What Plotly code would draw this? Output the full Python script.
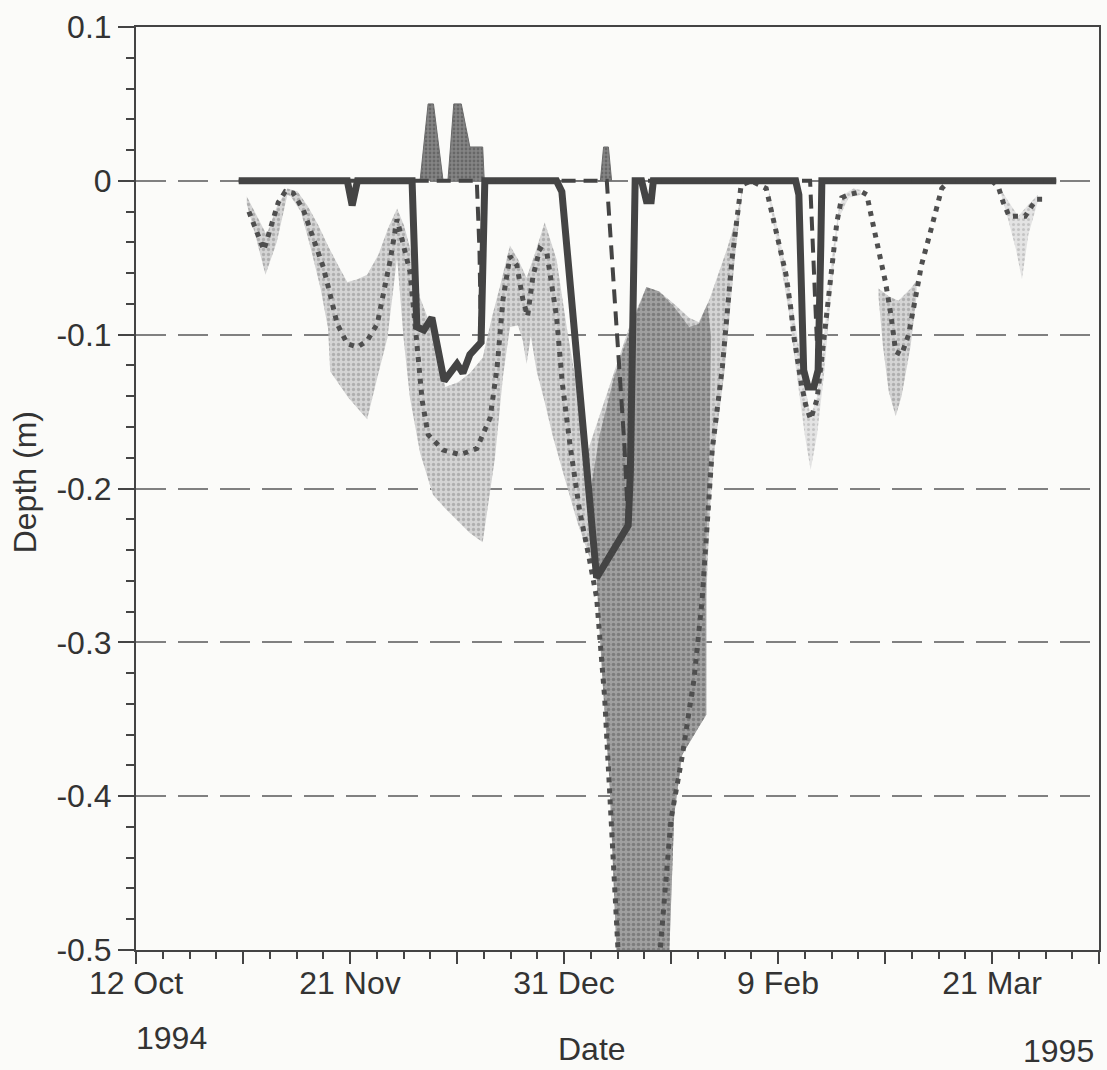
import pandas as pd
import plotly.graph_objects as go

START = pd.Timestamp("1994-10-12")

# ---------------- data (day offsets from 12 Oct 1994, depth in m) ----------------
# thick solid series
obs_day = [19.2, 39.5, 40.4, 41.4, 51.6, 52.5, 53.8, 55.3, 57.6, 60.0, 61.1, 62.4, 64.5, 65.2,
           78.6, 79.6, 86.1, 92.0, 92.4, 93.3, 94.5, 95.4, 96.3, 96.7,
           123.3, 123.9, 124.8, 125.6, 126.7, 127.5, 128.0, 128.2, 172.0]
obs_depth = [0, 0, -0.016, 0, 0, -0.095, -0.097, -0.089, -0.130, -0.119, -0.125, -0.113, -0.105, 0,
             0, -0.007, -0.258, -0.224, -0.190, 0, 0, -0.013, -0.013, 0,
             0, -0.009, -0.123, -0.134, -0.134, -0.123, -0.042, 0, 0]

# dashed series
dash_day = [19.2, 63.7, 64.2, 64.5, 65.2, 88.0, 91.3, 92.0, 92.4, 93.3, 126.0, 126.7, 127.5, 128.2, 172.0]
dash_depth = [0, 0, -0.045, -0.105, 0, 0, -0.172, -0.224, -0.190, 0, 0, -0.060, -0.123, 0, 0]

# dotted series
dot_day = [21.1, 22.5, 23.9, 25.2, 26.6, 27.9, 29.4, 31.3, 33.2, 35.0, 36.3, 37.6, 39.5, 41.4, 43.2,
           45.1, 46.2, 47.5, 48.8, 51.2, 52.4, 53.5, 54.6, 57.4, 60.6, 63.7, 66.2, 67.5, 68.6, 69.9,
           71.2, 72.3, 73.2, 74.2, 75.5, 76.8, 78.6, 79.7, 81.1, 82.9, 84.8, 86.1, 87.6, 88.9, 90.4,
           97.5, 100.0, 102.1, 104.3, 105.8, 106.6, 107.7, 109.6, 111.4, 113.1, 115.0, 117.8, 118.9,
           120.2, 121.5, 122.4, 123.0, 124.3, 125.2, 126.1, 127.3, 128.2, 129.1, 130.1, 131.0, 131.9,
           133.2, 135.6, 136.6, 137.5, 138.8, 140.1, 141.1, 142.0, 143.1, 144.4, 145.7, 146.8, 148.5,
           150.0, 150.6, 152.0, 160.0, 161.2, 162.1, 163.2, 164.5, 166.2, 167.5, 168.4, 169.9]
dot_depth = [-0.020, -0.033, -0.045, -0.030, -0.014, -0.007, -0.008, -0.019, -0.038, -0.056, -0.074,
             -0.093, -0.106, -0.108, -0.104, -0.093, -0.074, -0.052, -0.025, -0.059, -0.102, -0.143,
             -0.165, -0.175, -0.178, -0.174, -0.154, -0.121, -0.077, -0.049, -0.055, -0.077, -0.088,
             -0.062, -0.044, -0.047, -0.088, -0.132, -0.171, -0.214, -0.247, -0.271, -0.336, -0.414,
             -0.520, -0.520, -0.415, -0.374, -0.324, -0.273, -0.230, -0.175, -0.121, -0.051, -0.003,
             0.0, -0.005, -0.022, -0.040, -0.061, -0.083, -0.102, -0.131, -0.146, -0.155, -0.142,
             -0.115, -0.087, -0.055, -0.027, -0.011, -0.009, -0.007, -0.009, -0.024, -0.044, -0.066,
             -0.087, -0.111, -0.113, -0.100, -0.076, -0.055, -0.033, -0.011, -0.005, 0.0, 0.0,
             -0.004, -0.014, -0.023, -0.023, -0.023, -0.016, -0.012, -0.012]

# light shaded range (main Oct-Jan band): upper and lower edges
band_top_day = [20.7, 22.9, 24.4, 26.3, 28.3, 30.2, 32.2, 34.1, 36.0, 37.8, 39.5, 41.4, 43.2, 45.3,
                47.1, 48.8, 50.1, 51.4, 53.1, 55.5, 57.8, 60.2, 62.4, 64.8, 66.5, 68.0, 69.9, 71.4,
                73.0, 74.5, 76.4, 78.6, 80.5, 82.4, 84.4, 86.6, 89.4, 92.2, 95.4, 97.8, 100.6, 103.4,
                105.2, 107.2, 109.0, 110.5, 112.2, 113.3]
band_top = [-0.010, -0.025, -0.035, -0.017, -0.005, -0.007, -0.017, -0.029, -0.043, -0.055, -0.066,
            -0.064, -0.061, -0.048, -0.031, -0.018, -0.029, -0.046, -0.076, -0.098, -0.134, -0.131,
            -0.125, -0.115, -0.089, -0.069, -0.042, -0.051, -0.063, -0.048, -0.027, -0.051, -0.095,
            -0.134, -0.176, -0.153, -0.124, -0.095, -0.069, -0.072, -0.080, -0.089, -0.092, -0.077,
            -0.059, -0.044, -0.024, -0.006]
band_bot_day = [20.7, 22.5, 24.2, 26.3, 28.3, 28.9, 30.8, 32.6, 34.5, 35.9, 36.3, 39.7, 43.2, 45.1,
                47.0, 48.8, 50.0, 51.2, 53.1, 55.5, 57.8, 60.0, 62.4, 64.8, 67.1, 68.6, 69.9, 71.4,
                72.3, 73.0, 73.8, 74.9, 76.4, 77.9, 80.1, 82.5, 84.8, 86.1, 87.2, 88.5, 89.8, 99.7,
                100.6, 102.1, 105.2, 106.6, 106.6, 107.2, 108.1, 110.0, 111.8, 113.3]
band_bot = [-0.015, -0.038, -0.061, -0.040, -0.009, -0.010, -0.020, -0.043, -0.070, -0.096, -0.124,
            -0.141, -0.155, -0.128, -0.102, -0.050, -0.102, -0.141, -0.177, -0.204, -0.213, -0.221,
            -0.229, -0.235, -0.180, -0.127, -0.095, -0.094, -0.104, -0.119, -0.101, -0.124, -0.144,
            -0.166, -0.193, -0.222, -0.245, -0.259, -0.325, -0.390, -0.500, -0.500, -0.412, -0.373,
            -0.355, -0.347, -0.271, -0.219, -0.176, -0.124, -0.055, -0.008]

# darker shaded region (late Dec - Jan), outline
dark_day = [84.8, 86.6, 89.4, 92.2, 95.4, 97.8, 100.6, 103.4, 105.2, 106.8, 107.5, 107.2, 106.6,
            106.6, 105.2, 102.1, 100.6, 99.7, 89.8, 88.5, 87.2, 86.1, 84.8]
dark_depth = [-0.205, -0.166, -0.127, -0.098, -0.069, -0.072, -0.082, -0.095, -0.093, -0.080, -0.101,
              -0.173, -0.238, -0.347, -0.355, -0.373, -0.412, -0.500, -0.500, -0.390, -0.325, -0.259,
              -0.231]

# smaller light ranges (Feb, Feb/Mar, Mar)
feb1_top_day = [118.3, 120.2, 122.1, 123.9, 125.4, 126.1, 127.3, 128.6, 129.9, 131.3, 132.2, 134.1, 135.5]
feb1_top = [-0.006, -0.035, -0.068, -0.108, -0.140, -0.153, -0.140, -0.101, -0.055, -0.019, -0.009, -0.005, -0.006]
feb1_bot_day = [118.3, 120.2, 122.1, 123.5, 125.0, 126.1, 127.3, 128.6, 129.9, 131.3, 133.2, 135.5]
feb1_bot = [-0.012, -0.048, -0.087, -0.126, -0.165, -0.188, -0.165, -0.126, -0.074, -0.025, -0.011, -0.009]

feb2_top_day = [138.8, 140.7, 142.5, 144.8, 145.9]
feb2_top = [-0.070, -0.075, -0.078, -0.070, -0.065]
feb2_bot_day = [138.8, 139.6, 140.7, 142.0, 143.1, 144.8, 145.9]
feb2_bot = [-0.076, -0.107, -0.137, -0.153, -0.140, -0.107, -0.075]

mar_top_day = [161.7, 163.4, 164.9, 166.4, 168.6]
mar_top = [-0.006, -0.015, -0.023, -0.017, -0.009]
mar_bot_day = [161.7, 163.0, 164.5, 165.6, 166.8, 168.6]
mar_bot = [-0.009, -0.025, -0.045, -0.064, -0.035, -0.013]

# positive excursions
pos_day = [53.1, 54.6, 55.6, 57.4, 58.3, 59.4, 60.8, 61.9, 62.4, 64.8, 65.1, 86.8, 87.4, 88.3, 88.9]
pos_depth = [0, 0.05, 0.05, 0, 0, 0.05, 0.05, 0.03, 0.022, 0.022, 0, 0, 0.022, 0.022, 0]

# axis ticks
x_tick_days = [0, 20, 40, 60, 80, 100, 120, 140, 160, 180]
x_tick_text = ["12 Oct", "", "21 Nov", "", "31 Dec", "", "9 Feb", "", "21 Mar", ""]
y_tick_vals = [0.1, 0.0, -0.1, -0.2, -0.3, -0.4, -0.5]
y_tick_text = ["0.1", "0", "-0.1", "-0.2", "-0.3", "-0.4", "-0.5"]


def to_dates(days):
    return [START + pd.Timedelta(days=d) for d in days]


def polygon(top_day, top, bot_day, bot):
    return to_dates(list(top_day) + list(bot_day)[::-1]), list(top) + list(bot)[::-1]


INK = "#444444"
fig = go.Figure()

light_pat = dict(shape=".", fgcolor="#8a8a8a", bgcolor="#d4d4d4", size=5, solidity=0.35)
faint_pat = dict(shape=".", fgcolor="#a5a5a5", bgcolor="#e3e3e3", size=5, solidity=0.3)
dark_pat = dict(shape=".", fgcolor="#5a5a5a", bgcolor="#a0a0a0", size=5, solidity=0.4)

for (td, t, bd, b, pat) in [
    (band_top_day, band_top, band_bot_day, band_bot, light_pat),
    (feb1_top_day, feb1_top, feb1_bot_day, feb1_bot, faint_pat),
    (feb2_top_day, feb2_top, feb2_bot_day, feb2_bot, light_pat),
    (mar_top_day, mar_top, mar_bot_day, mar_bot, faint_pat),
]:
    xs, ys = polygon(td, t, bd, b)
    fig.add_trace(go.Scatter(x=xs, y=ys, mode="lines", fill="toself",
                             fillcolor=pat["bgcolor"], fillpattern=pat,
                             line=dict(width=0, color=pat["bgcolor"]), hoverinfo="skip",
                             showlegend=False))

fig.add_trace(go.Scatter(x=to_dates(dark_day), y=dark_depth, mode="lines", fill="toself",
                         fillcolor=dark_pat["bgcolor"], fillpattern=dark_pat,
                         line=dict(width=0, color=dark_pat["bgcolor"]), hoverinfo="skip",
                         showlegend=False))

fig.add_trace(go.Scatter(x=to_dates(dot_day), y=dot_depth, mode="lines",
                         line=dict(color="#4f4f4f", width=5, dash="5px,6px"),
                         hoverinfo="skip", showlegend=False))

fig.add_trace(go.Scatter(x=to_dates(pos_day), y=pos_depth, mode="lines", fill="tozeroy",
                         fillcolor="#7a7a7a",
                         fillpattern=dict(shape=".", fgcolor="#4a4a4a", bgcolor="#858585", size=4, solidity=0.4),
                         line=dict(width=1, color="#6a6a6a"), hoverinfo="skip", showlegend=False))

fig.add_trace(go.Scatter(x=to_dates(obs_day), y=obs_depth, mode="lines",
                         line=dict(color=INK, width=7), hoverinfo="skip", showlegend=False))

fig.add_trace(go.Scatter(x=to_dates(dash_day), y=dash_depth, mode="lines",
                         line=dict(color=INK, width=4, dash="14px,8px"),
                         hoverinfo="skip", showlegend=False))

FONT = "Liberation Sans, Arial, sans-serif"
TXT = "#333333"
FS = 32
fig.update_layout(
    width=1107, height=1070,
    margin=dict(l=136, r=6, t=27, b=120),
    paper_bgcolor="#fbfbf9", plot_bgcolor="#fbfbf9",
    font=dict(family=FONT, size=FS, color=TXT),
    showlegend=False,
)
fig.update_xaxes(
    type="date",
    range=[START, START + pd.Timedelta(days=180)],
    tickmode="array", tickvals=to_dates(x_tick_days), ticktext=x_tick_text,
    ticks="outside", ticklen=12, tickwidth=2, tickcolor=INK,
    ticklabelstandoff=-8,
    minor=dict(ticks="outside", ticklen=7, tickwidth=1.5, tickcolor=INK,
               dtick=5 * 86400000, tick0=START, showgrid=False),
    showgrid=False, zeroline=False,
    showline=True, linecolor=INK, linewidth=2, mirror=True,
    tickfont=dict(size=FS),
)
fig.update_yaxes(
    range=[-0.5, 0.1],
    tickmode="array", tickvals=y_tick_vals, ticktext=y_tick_text,
    ticks="outside", ticklen=16, tickwidth=2, tickcolor=INK,
    minor=dict(ticks="outside", ticklen=8, tickwidth=1.5, tickcolor=INK,
               dtick=0.02, tick0=0, showgrid=False),
    showgrid=True, gridcolor="#808080", gridwidth=1.5, griddash="30px,12px",
    zeroline=False,
    showline=True, linecolor=INK, linewidth=2, mirror=True,
    tickfont=dict(size=FS),
)

fig.add_annotation(text="Date", xref="paper", yref="paper", x=0.474, y=-0.107,
                   showarrow=False, font=dict(size=FS), xanchor="center", yanchor="middle")
fig.add_annotation(text="1994", xref="paper", yref="paper", x=0.037, y=-0.095,
                   showarrow=False, font=dict(size=FS), xanchor="center", yanchor="middle")
fig.add_annotation(text="1995", xref="paper", yref="paper", x=0.958, y=-0.109,
                   showarrow=False, font=dict(size=FS), xanchor="center", yanchor="middle")
fig.add_annotation(text="Depth (m)", xref="paper", yref="paper", x=-0.115, y=0.507,
                   showarrow=False, font=dict(size=FS), textangle=-90,
                   xanchor="center", yanchor="middle")

fig.write_html("out.html")
